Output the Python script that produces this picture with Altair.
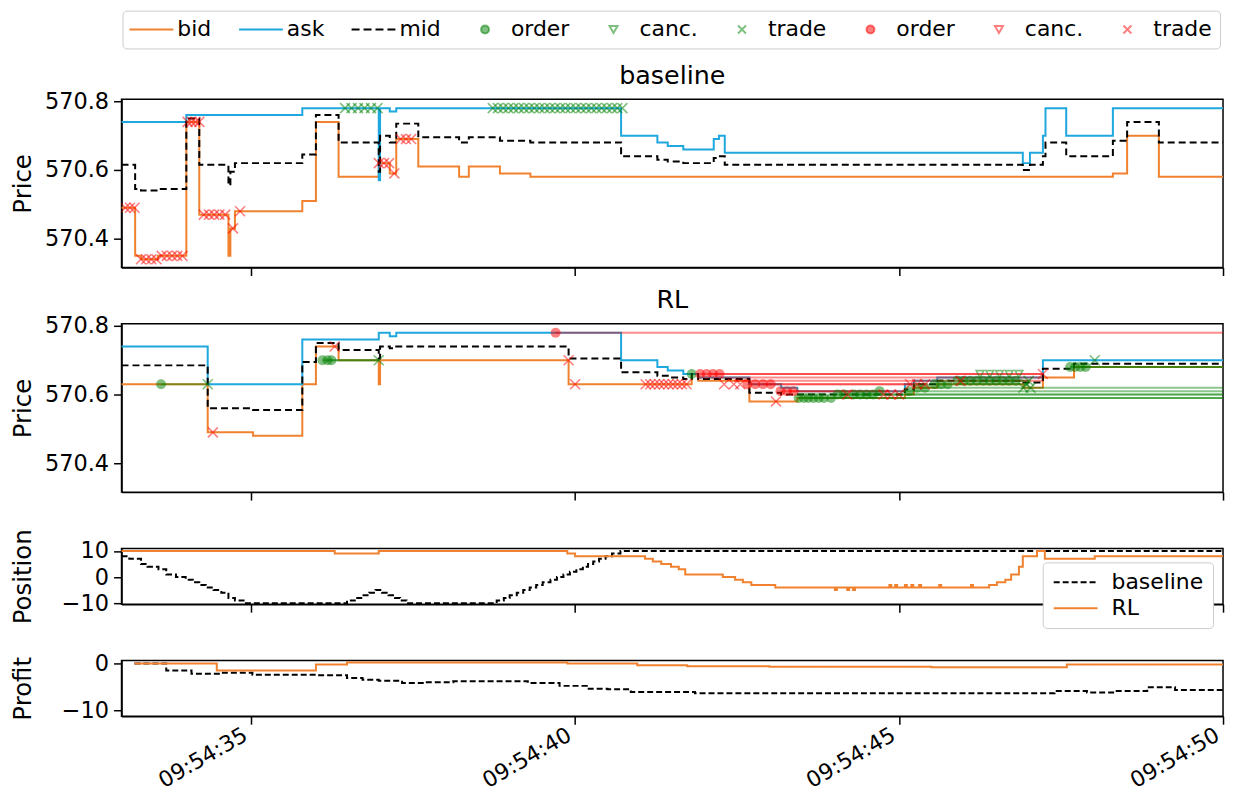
import altair as alt
import pandas as pd

ORANGE = "#f0822f"
BLUE = "#1ea8dd"
FONT = "DejaVu Sans"
FS = 22
LFS = 22.5
AFS = 24.5
TFS = 25.5

# ---------------- data ----------------
X_DOMAIN = [33.0, 50.0]
X_TICKS = [35, 40, 45, 50]
PRICE_DOMAIN = [570.316, 570.806]
PRICE_TICKS = [570.4, 570.6, 570.8]
POS_DOMAIN = [-10.4, 11.0]
POS_TICKS = [-10, 0, 10]
PNL_DOMAIN = [-11.3, 0.65]
PNL_TICKS = [-10, 0]

# baseline order book (seconds after 09:54:00)
bl_t = [33.00, 33.21, 33.30, 33.56, 34.00, 34.20, 34.65, 34.68, 34.75, 35.79, 36.00, 36.35,
        36.97, 36.99, 37.14, 37.24, 37.58, 38.21, 38.36, 38.84, 39.31, 40.71, 41.27, 41.43,
        41.67, 42.14, 42.22, 42.31, 46.91, 47.02, 47.22, 47.26, 47.58, 48.30, 48.52, 49.01, 50.00]
bl_bid = [570.49, 570.35, 570.34, 570.35, 570.74, 570.47, 570.35, 570.43, 570.48, 570.51, 570.74, 570.58,
          570.62, 570.62, 570.59, 570.69, 570.61, 570.58, 570.61, 570.59, 570.58, 570.58, 570.58, 570.58,
          570.58, 570.58, 570.58, 570.58, 570.58, 570.58, 570.58, 570.58, 570.58, 570.59, 570.70, 570.58, 570.58]
bl_ask = [570.74, 570.74, 570.74, 570.74, 570.76, 570.76, 570.76, 570.76, 570.76, 570.78, 570.78, 570.78,
          570.57, 570.78, 570.77, 570.78, 570.78, 570.78, 570.78, 570.78, 570.78, 570.70, 570.68, 570.67,
          570.66, 570.69, 570.70, 570.65, 570.62, 570.65, 570.70, 570.78, 570.70, 570.78, 570.78, 570.78, 570.78]
bl_mid = [570.615, 570.545, 570.54, 570.545, 570.75, 570.615, 570.555, 570.595, 570.62, 570.645, 570.76, 570.68,
          570.595, 570.70, 570.68, 570.735, 570.695, 570.68, 570.695, 570.685, 570.68, 570.64, 570.63, 570.625,
          570.62, 570.635, 570.64, 570.615, 570.60, 570.615, 570.64, 570.68, 570.64, 570.685, 570.74, 570.68, 570.68]

bl_red_trade_t = [33.06, 33.13, 33.20, 33.30, 33.38, 33.46, 33.54, 33.62, 33.70, 33.78, 33.86, 33.94,
                  34.02, 34.08, 34.14, 34.20, 34.27, 34.35, 34.43, 34.51, 34.60, 34.72, 34.83,
                  36.97, 37.05, 37.13, 37.21, 37.31, 37.39, 37.47]
bl_red_trade_p = [570.49, 570.49, 570.49, 570.34, 570.34, 570.34, 570.34, 570.35, 570.35, 570.35, 570.35, 570.35,
                  570.74, 570.74, 570.74, 570.74, 570.47, 570.47, 570.47, 570.47, 570.47, 570.43, 570.48,
                  570.62, 570.62, 570.62, 570.59, 570.69, 570.69, 570.69]
bl_green_trade_t = [36.45, 36.55, 36.65, 36.75, 36.85, 36.95,
                    38.73, 38.81, 38.89, 38.97, 39.05, 39.13, 39.21, 39.29, 39.37, 39.45, 39.53, 39.61, 39.69,
                    39.77, 39.85, 39.93, 40.01, 40.09, 40.17, 40.25, 40.33, 40.41, 40.49, 40.57, 40.65, 40.73]
bl_green_trade_p = [570.78] * len(bl_green_trade_t)

# RL order book
rl_t = [33.00, 34.33, 35.03, 35.79, 36.00, 36.35, 36.97, 36.99, 37.14, 37.24, 39.90, 40.71, 41.27, 41.43,
        41.67, 41.80, 41.90, 42.69, 43.18, 43.43, 45.09, 45.23, 45.59, 46.92, 47.22, 47.70, 50.00]
rl_bid = [570.63, 570.49, 570.48, 570.63, 570.74, 570.70, 570.63, 570.70, 570.70, 570.70, 570.63, 570.63, 570.63, 570.63,
          570.63, 570.66, 570.64, 570.58, 570.58, 570.59, 570.60, 570.62, 570.63, 570.62, 570.65, 570.68, 570.68]
rl_ask = [570.74, 570.63, 570.63, 570.76, 570.76, 570.76, 570.78, 570.78, 570.77, 570.78, 570.78, 570.70, 570.68, 570.67,
          570.66, 570.66, 570.65, 570.63, 570.62, 570.61, 570.63, 570.64, 570.65, 570.65, 570.70, 570.70, 570.70]
rl_mid = [570.685, 570.56, 570.555, 570.695, 570.75, 570.73, 570.705, 570.74, 570.735, 570.74, 570.705, 570.665, 570.655, 570.65,
          570.645, 570.66, 570.645, 570.605, 570.60, 570.60, 570.615, 570.63, 570.64, 570.635, 570.675, 570.69, 570.69]

# RL resting orders (start, end, price)
rl_buy_line_t0 = [33.61, 36.10, 36.18, 43.43, 43.60, 44.00, 44.20, 45.05, 45.30, 45.60, 45.90, 46.30, 47.64, 47.80]
rl_buy_line_t1 = [34.33, 36.97, 36.97, 50.00, 50.00, 50.00, 50.00, 50.00, 50.00, 47.00, 47.00, 47.00, 50.00, 50.00]
rl_buy_line_p = [570.63, 570.70, 570.70, 570.59, 570.59, 570.60, 570.60, 570.61, 570.62, 570.63, 570.64, 570.64, 570.68, 570.68]
rl_sell_line_t0 = [39.70, 41.93, 42.10, 42.25, 42.45, 42.66, 42.90, 43.17, 43.30]
rl_sell_line_t1 = [50.00, 47.22, 47.22, 47.22, 47.22, 45.25, 45.45, 44.85, 45.10]
rl_sell_line_p = [570.78, 570.66, 570.66, 570.65, 570.64, 570.63, 570.63, 570.61, 570.61]

rl_green_order_t = [33.61, 36.10, 36.18, 36.24, 41.80, 43.45, 43.53, 43.60, 43.68, 43.76, 43.84, 43.95, 44.05, 44.15,
                    44.30, 44.40, 44.50, 44.60, 44.70, 45.15, 45.28, 45.40, 45.55, 45.65, 45.75, 45.90, 46.00, 46.10,
                    46.20, 46.30, 46.40, 46.50, 46.60, 46.70, 46.80, 47.64, 47.72, 47.80, 47.88]
rl_green_order_p = [570.63, 570.70, 570.70, 570.70, 570.66, 570.59, 570.59, 570.59, 570.59, 570.59, 570.59, 570.59, 570.60, 570.60,
                    570.60, 570.60, 570.60, 570.60, 570.61, 570.61, 570.62, 570.62, 570.63, 570.63, 570.63, 570.64, 570.64, 570.64,
                    570.64, 570.64, 570.64, 570.64, 570.64, 570.64, 570.64, 570.68, 570.68, 570.68, 570.68]
rl_green_canc_t = [46.25, 46.40, 46.55, 46.70, 46.85]
rl_green_canc_p = [570.66, 570.66, 570.66, 570.66, 570.66]
rl_green_trade_t = [34.33, 36.97, 46.92, 46.96, 47.00, 47.03, 48.02]
rl_green_trade_p = [570.63, 570.70, 570.62, 570.63, 570.64, 570.62, 570.70]
rl_red_order_t = [39.70, 41.93, 42.03, 42.13, 42.23, 42.66, 42.78, 42.90, 43.02, 43.17, 43.27, 43.37]
rl_red_order_p = [570.78, 570.66, 570.66, 570.66, 570.66, 570.63, 570.63, 570.63, 570.63, 570.61, 570.61, 570.61]
rl_red_trade_t = [34.41, 36.29, 39.90, 40.00, 41.09, 41.16, 41.23, 41.30, 41.37, 41.44, 41.51, 41.58, 41.65, 41.72,
                  42.30, 42.45, 42.55, 43.10, 44.20, 44.76, 44.88, 45.00, 45.17, 45.28, 45.40, 45.95, 47.22]
rl_red_trade_p = [570.49, 570.74, 570.70, 570.63, 570.63, 570.63, 570.63, 570.63, 570.63, 570.63, 570.63, 570.63, 570.63, 570.63,
                  570.63, 570.63, 570.63, 570.58, 570.60, 570.60, 570.60, 570.60, 570.63, 570.63, 570.63, 570.64, 570.66]

# position
pos_bl_t = [33.00, 33.12, 33.30, 33.40, 33.57, 33.69, 33.84, 33.99, 34.10, 34.20, 34.30, 34.42, 34.54, 34.65, 34.75,
            34.90, 36.48, 36.60, 36.72, 36.82, 36.92, 37.02, 37.12, 37.22, 37.30, 37.40, 38.79, 38.90, 38.99,
            39.10, 39.20, 39.30, 39.40, 39.50, 39.62, 39.72, 39.82, 39.92, 40.02, 40.12, 40.20, 40.28, 40.37,
            40.47, 40.57, 40.70, 50.00]
pos_bl_v = [8, 7, 5, 4, 3, 1, 0, -1, -2, -3, -4, -5, -6, -8, -9,
            -10, -9, -8, -7, -6, -5, -6, -7, -8, -9, -10, -9, -8, -7,
            -6, -5, -4, -3, -2, -1, 0, 1, 2, 3, 4, 5, 6, 7,
            8, 9, 10, 10]
pos_rl_t = [33.00, 36.29, 36.97, 39.88, 40.00, 41.08, 41.20, 41.33, 41.48, 41.60, 41.70, 42.28, 42.47, 42.59, 42.72,
            43.09, 44.01, 44.04, 44.20, 44.23, 44.29, 44.32, 44.85, 44.88, 44.94, 44.97, 45.09, 45.12, 45.19, 45.22,
            45.31, 45.34, 45.62, 45.65, 46.11, 46.14, 46.39, 46.51, 46.64, 46.73, 46.85, 46.91, 47.13, 47.25, 48.02, 50.00]
pos_rl_v = [10, 9, 10, 9, 8, 7, 6, 5, 4, 3, 1, 0, -1, -2, -3,
            -4, -5, -4, -5, -4, -5, -4, -3, -4, -3, -4, -3, -4, -3, -4,
            -3, -4, -3, -4, -3, -4, -3, -2, -1, 1, 4, 8, 10, 7, 8, 8]

# profit
pnl_bl_t = [33.20, 33.69, 34.08, 34.54, 35.02, 36.00, 36.48, 36.72, 36.97, 37.33, 37.69, 38.12, 39.27, 39.76,
            40.18, 40.50, 40.86, 41.85, 47.40, 47.90, 48.33, 48.83, 49.26, 50.00]
pnl_bl_v = [0.0, -1.5, -2.2, -2.0, -2.4, -2.5, -3.1, -3.5, -3.7, -4.2, -4.0, -3.8, -4.2, -4.8,
            -5.4, -5.5, -6.1, -6.4, -5.9, -6.2, -5.9, -5.1, -5.7, -5.7]
pnl_rl_t = [33.20, 34.47, 36.00, 36.48, 39.88, 40.96, 41.73, 43.00, 45.50, 47.59, 50.00]
pnl_rl_v = [0.0, -1.5, -0.2, 0.2, 0.0, -0.4, -0.6, -0.7, -0.8, -0.2, -0.2]

# legend entries
legend_keys = ["bid_", "ask_", "mid_", "order_g", "canc._g", "trade_g", "order_r", "canc._r", "trade_r"]
GREEN_A = "rgba(0,128,0,0.5)"
RED_A = "rgba(255,0,0,0.5)"
LINE = "M-5.5,0H5.5"
DASH = "M-5.5,0H-3.5M-2.5,0H-0.5M0.5,0H2.5M3.5,0H5.5"
XPATH = "M-1,-1L1,1M-1,1L1,-1"
legend_strokes = [ORANGE, BLUE, "black", GREEN_A, GREEN_A, GREEN_A, RED_A, RED_A, RED_A]
legend_fills = ["transparent", "transparent", "transparent", GREEN_A, "transparent", "transparent",
                RED_A, "transparent", "transparent"]
legend_shapes = [LINE, LINE, DASH, "circle", "triangle-down", XPATH, "circle", "triangle-down", XPATH]

# ---------------- chart ----------------
xs = alt.Scale(domain=X_DOMAIN, nice=False, zero=False)


def xaxis(labels):
    if labels:
        return alt.Axis(values=X_TICKS, labelExpr="'09:54:' + datum.value", labelAngle=330,
                        labelAlign="right", labelBaseline="bottom", labelPadding=19, labelOverlap=False,
                        labelFlush=False, labelBound=False, grid=False, title=None, tickSize=8,
                        labelFontSize=FS)
    return alt.Axis(values=X_TICKS, labels=False, grid=False, title=None, tickSize=8)


def yaxis(title, ticks, fmt):
    return alt.Axis(values=ticks, format=fmt, title=title, grid=False, titleX=-86, tickSize=8,
                    labelPadding=5, labelFontSize=LFS, titleFontSize=AFS)


def X(field, labels=False):
    return alt.X(field, scale=xs, axis=xaxis(labels))


ps = alt.Scale(domain=PRICE_DOMAIN, nice=False, zero=False)
pa = yaxis("Price", PRICE_TICKS, ".1f")


def PY(field):
    return alt.Y(field, scale=ps, axis=pa)


def book(t, bid, ask, mid):
    df = pd.DataFrame({"t": t, "bid": bid, "ask": ask, "mid": mid})
    base = alt.Chart(df)
    return [
        base.mark_line(interpolate="step-after", color=ORANGE, strokeWidth=2).encode(x=X("t:Q"), y=PY("bid:Q")),
        base.mark_line(interpolate="step-after", color=BLUE, strokeWidth=2).encode(x=X("t:Q"), y=PY("ask:Q")),
        base.mark_line(interpolate="step-after", color="black", strokeWidth=2, strokeDash=[7, 4]).encode(
            x=X("t:Q"), y=PY("mid:Q")),
    ]


def marks(t, p, shape, color, filled, size=100):
    df = pd.DataFrame({"t": t, "p": p})
    return alt.Chart(df).mark_point(shape=shape, color=color, filled=filled, opacity=0.5, size=size,
                                    strokeWidth=1.6, clip=True).encode(x=X("t:Q"), y=PY("p:Q"))


def lines(t0, t1, p, color):
    df = pd.DataFrame({"t0": t0, "t1": t1, "p": p})
    return alt.Chart(df).mark_rule(color=color, opacity=0.45, strokeWidth=2, clip=True).encode(
        x=X("t0:Q"), x2="t1:Q", y=PY("p:Q"))


LEG = alt.Legend(title=None, orient="none", legendX=1, legendY=-89, direction="horizontal", columns=9,
                 labelExpr="slice(datum.label, 0, indexof(datum.label, '_'))",
                 symbolSize=64, symbolStrokeWidth=2, symbolOffset=10, labelOffset=15, columnPadding=23,
                 padding=8, strokeColor="#cccccc", fillColor="white", cornerRadius=4,
                 labelFontSize=FS, labelFont=FONT, labelColor="black", labelLimit=0)

leg_df = pd.DataFrame({"key": legend_keys, "t": [60.0] * 9, "p": [570.6] * 9})
legend_layer = alt.Chart(leg_df).mark_point(clip=True, opacity=1, strokeWidth=2).encode(
    x=X("t:Q"), y=PY("p:Q"),
    fill=alt.Fill("key:N", scale=alt.Scale(domain=legend_keys, range=legend_fills), legend=LEG),
    stroke=alt.Stroke("key:N", scale=alt.Scale(domain=legend_keys, range=legend_strokes), legend=LEG),
    shape=alt.Shape("key:N", scale=alt.Scale(domain=legend_keys, range=legend_shapes), legend=LEG),
)

title_kw = dict(fontSize=TFS, font=FONT, fontWeight="normal", anchor="middle", offset=1, color="black")

p1 = alt.layer(
    *book(bl_t, bl_bid, bl_ask, bl_mid),
    marks(bl_red_trade_t, bl_red_trade_p, XPATH, "red", False),
    marks(bl_green_trade_t, bl_green_trade_p, XPATH, "green", False),
    legend_layer,
).properties(width=1106, height=169, title=alt.TitleParams("baseline", **title_kw))

p2 = alt.layer(
    *book(rl_t, rl_bid, rl_ask, rl_mid),
    lines(rl_buy_line_t0, rl_buy_line_t1, rl_buy_line_p, "green"),
    lines(rl_sell_line_t0, rl_sell_line_t1, rl_sell_line_p, "red"),
    marks(rl_green_order_t, rl_green_order_p, "circle", "green", True),
    marks(rl_green_canc_t, rl_green_canc_p, "triangle-down", "green", False, 60),
    marks(rl_green_trade_t, rl_green_trade_p, XPATH, "green", False),
    marks(rl_red_order_t, rl_red_order_p, "circle", "red", True),
    marks(rl_red_trade_t, rl_red_trade_p, XPATH, "red", False),
).properties(width=1106, height=169, title=alt.TitleParams("RL", **title_kw))

SERIES = ["baseline", "RL"]
LEG3 = alt.Legend(title=None, orient="none", legendX=925, legendY=14, direction="vertical",
                  symbolType=LINE, symbolSize=64, symbolStrokeWidth=2, symbolOffset=13, labelOffset=25,
                  rowPadding=4, padding=9, strokeColor="#cccccc", fillColor="white", cornerRadius=4,
                  labelFontSize=FS, labelFont=FONT, labelColor="black", labelLimit=0)


def series_chart(bl_tt, bl_vv, rl_tt, rl_vv, title, domain, ticks, legend, labels):
    df = pd.concat([
        pd.DataFrame({"t": bl_tt, "v": bl_vv, "s": "baseline"}),
        pd.DataFrame({"t": rl_tt, "v": rl_vv, "s": "RL"}),
    ])
    return alt.Chart(df).mark_line(interpolate="step-after", strokeWidth=2).encode(
        x=X("t:Q", labels),
        y=alt.Y("v:Q", scale=alt.Scale(domain=domain, nice=False, zero=False), axis=yaxis(title, ticks, "d")),
        color=alt.Color("s:N", scale=alt.Scale(domain=SERIES, range=["black", ORANGE]), legend=legend),
        strokeDash=alt.StrokeDash("s:N", scale=alt.Scale(domain=SERIES, range=[[6, 3], [1, 0]]), legend=legend),
    ).properties(width=1106, height=56)


p3 = series_chart(pos_bl_t, pos_bl_v, pos_rl_t, pos_rl_v, "Position", POS_DOMAIN, POS_TICKS, LEG3, False)
p4 = series_chart(pnl_bl_t, pnl_bl_v, pnl_rl_t, pnl_rl_v, "Profit", PNL_DOMAIN, PNL_TICKS, None, True)

chart = alt.vconcat(p1, p2, p3, p4, spacing=56.5, bounds="flush").resolve_scale(
    color="independent", strokeDash="independent", y="independent"
).properties(
    padding={"left": 2, "top": 0, "right": 0, "bottom": 0}
).configure_view(stroke="black", strokeWidth=1.5).configure_axis(
    domainColor="black", domainWidth=1.5, tickColor="black", tickWidth=1.5,
    labelColor="black", labelFont=FONT, labelFontSize=FS,
    titleFont=FONT, titleFontSize=AFS, titleFontWeight="normal", titleColor="black",
).configure_legend(labelFont=FONT, labelFontSize=FS, labelColor="black")

chart.save("out.html", embed_options={"renderer": "svg", "actions": False})
